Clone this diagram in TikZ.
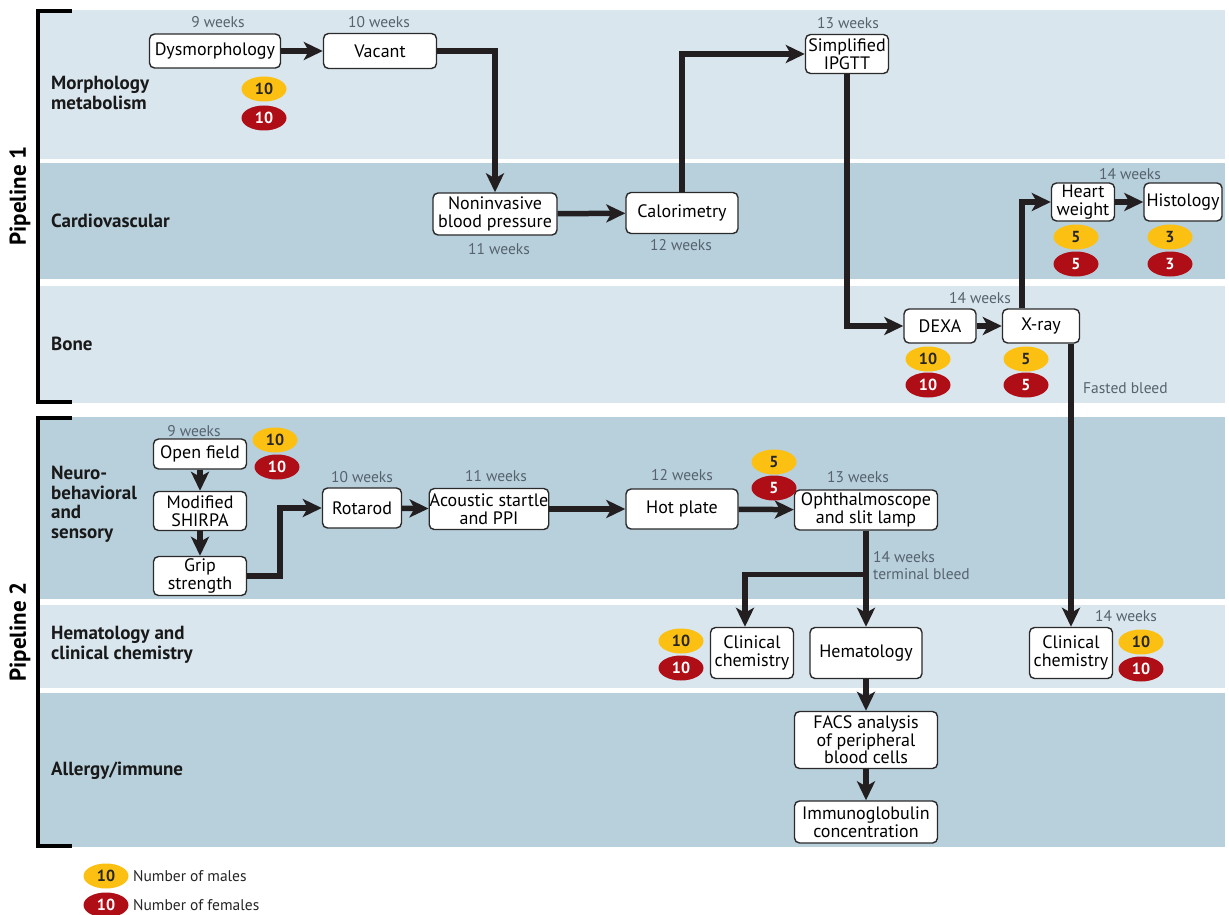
\documentclass[tikz,border=0pt]{standalone}
\usepackage{fontspec}
\setmainfont{PT Sans}
\usetikzlibrary{arrows.meta,shapes.geometric}
\definecolor{bandL}{HTML}{D9E6EE}
\definecolor{bandD}{HTML}{B8D0DC}
\definecolor{myyel}{HTML}{FCC012}
\definecolor{myred}{HTML}{B00E16}
\definecolor{wkgray}{HTML}{56636E}
\definecolor{boxc}{HTML}{2A2A2A}
\definecolor{arrc}{HTML}{231F20}
\tikzset{
  box/.style={draw=boxc, line width=1.4pt, fill=white, rounded corners=5pt, align=center,
    inner sep=0.5pt, font=\fontsize{18}{17.5}\selectfont},
  arr/.style={draw=arrc, line width=5.5pt, -{Stealth[length=19pt,width=18pt,inset=5pt]}},
  wk/.style={text=wkgray, font=\fontsize{15.5}{17}\selectfont, inner sep=0pt},
  lane/.style={font=\bfseries\fontsize{19}{19.5}\selectfont, align=left, anchor=west, text=black!90, inner sep=0pt},
  pipe/.style={font=\bfseries\fontsize{23}{24}\selectfont, rotate=90, inner sep=0pt},
  male/.style={ellipse, fill=myyel, minimum width=45pt, minimum height=25pt, inner sep=0pt,
    font=\bfseries\fontsize{16}{16}\selectfont, text=black!85},
  fem/.style={ellipse, fill=myred, minimum width=45pt, minimum height=25pt, inner sep=0pt,
    font=\bfseries\fontsize{16}{16}\selectfont, text=white},
  brk/.style={line width=3.5pt, draw=black},
  leg/.style={anchor=west, inner sep=0pt, font=\fontsize{15.5}{16}\selectfont, text=black!85}
}
\begin{document}
\begin{tikzpicture}[x=1pt,y=-1pt]
\useasboundingbox (0,0) rectangle (1229,915);
\fill[white] (0,0) rectangle (1229,915);
% bands
\fill[bandL] (40,10) rectangle (1225,159);
\fill[bandD] (40,163) rectangle (1225,279);
\fill[bandL] (40,286) rectangle (1225,403);
\fill[bandD] (40,417) rectangle (1225,599);
\fill[bandL] (40,605) rectangle (1225,688);
\fill[bandD] (40,693) rectangle (1225,847);
% brackets
\draw[brk] (72,11) -- (38,11) -- (38,402) -- (72,402);
\draw[brk] (72,418) -- (38,418) -- (38,846) -- (72,846);
\node[pipe] (p1) at (20,196) {Pipeline 1};
\node[pipe] (p2) at (20,632) {Pipeline 2};
% lane labels
\node[lane] (l1) at (51,93) {Morphology\\metabolism};
\node[lane] (l2) at (51,221) {Cardiovascular};
\node[lane] (l3) at (51,344) {Bone};
\node[lane] (l4) at (51,504) {Neuro-\\behavioral\\and\\sensory};
\node[lane] (l5) at (51,645) {Hematology and\\clinical chemistry};
\node[lane] (l6) at (51,771) {Allergy/immune};
% boxes
\node[box, minimum width=131pt, minimum height=34pt] (dys) at (215,51) {Dysmorphology};
\node[box, minimum width=113pt, minimum height=35pt] (vac) at (380,51) {Vacant};
\node[box, minimum width=124pt, minimum height=42pt] (nbp) at (495,214) {Noninvasive\\blood pressure};
\node[box, minimum width=112pt, minimum height=41pt] (cal) at (682,213) {Calorimetry};
\node[box, minimum width=83pt, minimum height=39pt] (ipg) at (847,54) {Simplified\\IPGTT};
\node[box, minimum width=63pt, minimum height=38pt] (hw) at (1083,202) {Heart\\weight};
\node[box, minimum width=78pt, minimum height=38pt] (his) at (1183,202) {Histology};
\node[box, minimum width=72pt, minimum height=34pt] (dexa) at (940,326) {DEXA};
\node[box, minimum width=77pt, minimum height=34pt] (xray) at (1041,326) {X-ray};
\node[box, minimum width=93pt, minimum height=30pt] (of) at (200,454) {Open field};
\node[box, minimum width=93pt, minimum height=39pt] (shi) at (200,511) {Modified\\SHIRPA};
\node[box, minimum width=93pt, minimum height=39pt] (grip) at (200,576) {Grip\\strength};
\node[box, minimum width=79pt, minimum height=40pt] (rot) at (362,508) {Rotarod};
\node[box, minimum width=111pt, minimum height=41pt] (aco) at (489,509) {Acoustic startle\\and PPI};
\node[box, minimum width=112pt, minimum height=40pt] (hot) at (682,509) {Hot plate};
\node[box, minimum width=143pt, minimum height=40pt] (oph) at (866,510) {Ophthalmoscope\\and slit lamp};
\node[box, minimum width=83pt, minimum height=51pt] (cc1) at (752,653) {Clinical\\chemistry};
\node[box, minimum width=112pt, minimum height=51pt] (hem) at (866,653) {Hematology};
\node[box, minimum width=143pt, minimum height=57pt] (facs) at (866,740) {FACS analysis\\of peripheral\\blood cells};
\node[box, minimum width=143pt, minimum height=42pt] (imm) at (866,822) {Immunoglobulin\\concentration};
\node[box, minimum width=83pt, minimum height=51pt] (cc2) at (1071,653) {Clinical\\chemistry};
% week labels
\node[wk] (w1) at (218,22) {9 weeks};
\node[wk] (w2) at (379,22) {10 weeks};
\node[wk] (w3) at (499,249) {11 weeks};
\node[wk] (w4) at (681,245) {12 weeks};
\node[wk] (w5) at (848,23) {13 weeks};
\node[wk] (w6) at (1130,174) {14 weeks};
\node[wk] (w7) at (980,298) {14 weeks};
\node[wk] (w8) at (194,431) {9 weeks};
\node[wk] (w9) at (362,477) {10 weeks};
\node[wk] (w10) at (496,476) {11 weeks};
\node[wk] (w11) at (682,475) {12 weeks};
\node[wk] (w12) at (858,477) {13 weeks};
\node[wk] (w13) at (1126,616) {14 weeks};
\node[wk, anchor=west] (fb) at (1083,388) {Fasted bleed};
\node[wk, anchor=west, align=left] (tb) at (873,566) {14 weeks\\terminal bleed};
% badges
\node[male] (m1) at (264,89) {10};  \node[fem] (f1) at (264,118) {10};
\node[male] (m2) at (1076,237) {5}; \node[fem] (f2) at (1076,264) {5};
\node[male] (m3) at (1170,237) {3}; \node[fem] (f3) at (1170,264) {3};
\node[male] (m4) at (928,359) {10}; \node[fem] (f4) at (928,385) {10};
\node[male] (m5) at (1026,359) {5}; \node[fem] (f5) at (1026,385) {5};
\node[male] (m6) at (275,440) {10}; \node[fem] (f6) at (277,467) {10};
\node[male] (m7) at (774,462) {5}; \node[fem] (f7) at (774,488) {5};
\node[male] (m8) at (681,641) {10}; \node[fem] (f8) at (681,668) {10};
\node[male] (m9) at (1141,642) {10}; \node[fem] (f9) at (1141,669) {10};
% legend
\node[male] (lm) at (106,876) {10};
\node[fem] (lf) at (106,905) {10};
\node[leg] (lmt) at (133,876) {Number of males};
\node[leg] (lft) at (133,905) {Number of females};
% connectors
\draw[arr] (dys) -- (vac);
\draw[arr] (vac.east) -| (nbp.north);
\draw[arr] (nbp) -- (cal);
\draw[arr] (cal.north) |- (ipg.west);
\draw[arr] (ipg.south) |- (dexa.west);
\draw[arr] (dexa) -- (xray);
\draw[arr] ([xshift=-19pt]xray.north) |- (hw.west);
\draw[arr] (hw) -- (his);
\draw[arr] (xray.south -| cc2.north) -- (cc2.north);
\draw[arr] (of) -- (shi);
\draw[arr] (shi) -- (grip);
\coordinate (gj) at ([xshift=33pt]grip.east);
\draw[arr] (grip.east) -- (gj) |- (rot.west);
\draw[arr] (rot) -- (aco);
\draw[arr] (aco) -- (hot);
\draw[arr] (hot) -- (oph);
\draw[arr] (oph) -- (hem);
\coordinate (tj) at ([yshift=-44pt]oph.south);
\draw[arr] (tj) -| ([xshift=-7pt]cc1.north);
\draw[arr] (hem) -- (facs);
\draw[arr] (facs) -- (imm);
\end{tikzpicture}
\end{document}
